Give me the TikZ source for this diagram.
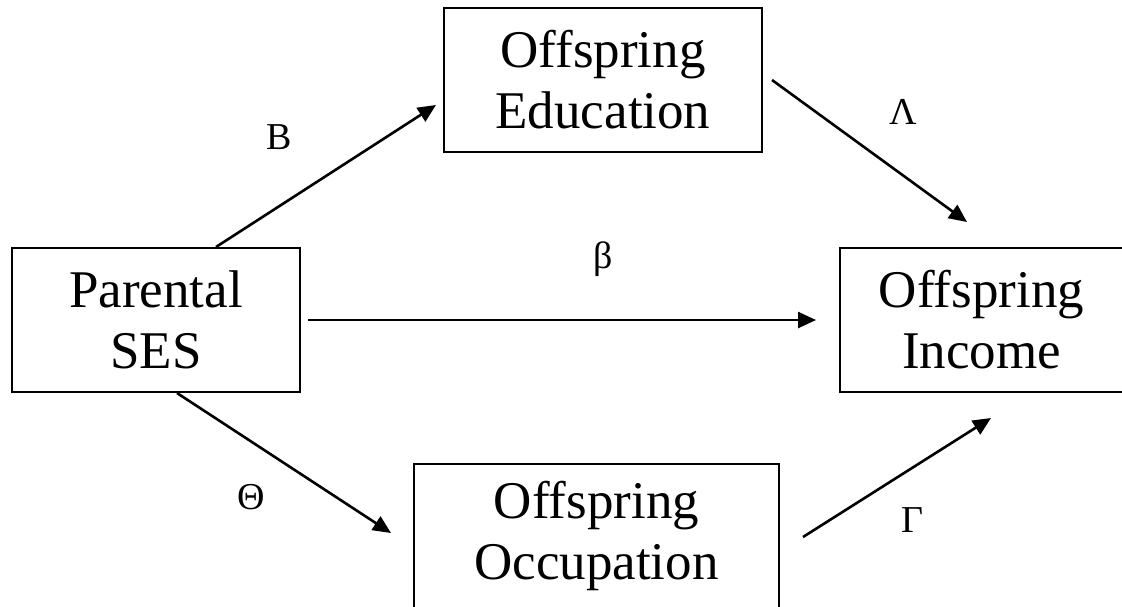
\documentclass[tikz,border=0pt]{standalone}
\usepackage{fontspec}
\setmainfont{Liberation Serif}
\usetikzlibrary{arrows.meta,calc}
\begin{document}
\begin{tikzpicture}[x=1pt,y=-1pt,
  box/.style={draw=black, line width=2pt, rectangle, align=center,
    inner sep=0pt, font=\fontsize{53}{61}\selectfont},
  arr/.style={draw=black, line width=2.6pt, -{Triangle[length=18pt,width=16pt]}},
  lbl/.style={font=\fontsize{38}{42}\selectfont, inner sep=0pt}]
\useasboundingbox (0,0) rectangle (1122,606);
\clip (0,0) rectangle (1122,606);
\fill[white] (0,0) rectangle (1122,606);

\node[box, minimum width=288pt, minimum height=144pt] (par) at (156,320) {Parental\\SES};
\node[box, minimum width=318pt, minimum height=144pt] (edu) at (603,80) {Offspring\\Education};
\node[box, minimum width=283pt, minimum height=144pt] (inc) at (981.5,320) {Offspring\\Income};
\node[box, minimum width=365pt, minimum height=144pt] (occ) at (596.5,536) {Offspring\\Occupation};

\draw[arr] ($(par.north west)+(205,0)$) -- ($(edu.west)+(-7,25)$);
\draw[arr] ($(par.east)+(7,0)$) -- ($(inc.west)+(-23,0)$);
\draw[arr] ($(par.south west)+(166,0)$) -- ($(occ.west)+(-22,-3)$);
\draw[arr] ($(edu.east)+(9,0)$) -- ($(inc.north west)+(128,-25)$);
\draw[arr] ($(occ.east)+(23,1)$) -- ($(inc.south west)+(152,25)$);

\node[lbl] (lB) at (279,137) {Β};
\node[lbl] (lb) at (603,259) {β};
\node[lbl] (lT) at (251,497) {Θ};
\node[lbl] (lL) at (903,112) {Λ};
\node[lbl] (lG) at (912,520) {Γ};
\end{tikzpicture}
\end{document}
